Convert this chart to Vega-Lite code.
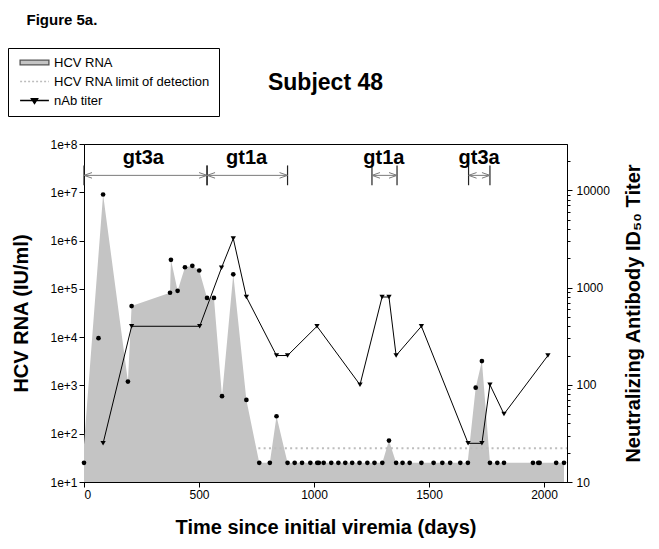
{
  "$schema": "https://vega.github.io/schema/vega-lite/v6.json",
  "background": "white",
  "padding": {"left": 7, "top": 12, "right": 5, "bottom": 5},
  "config": {
    "font": "Liberation Sans",
    "view": {"stroke": "black", "strokeWidth": 1},
    "axis": {
      "labelFont": "Liberation Sans", "labelFontSize": 12, "labelColor": "black",
      "titleFont": "Liberation Sans", "titleFontSize": 20, "titleFontWeight": "bold", "titleColor": "black",
      "domainColor": "black", "tickColor": "black", "grid": false, "tickSize": 5, "labelPadding": 2
    }
  },
  "title": {"text": "Figure 5a.", "anchor": "start", "frame": "bounds", "fontSize": 15, "fontWeight": "bold", "font": "Liberation Sans", "color": "black", "dx": 19, "offset": 20},
  "datasets": {
    "rnaArea": [
      {"day": 0, "rna": 60}, {"day": 83, "rna": 9000000}, {"day": 191, "rna": 1200}, {"day": 207, "rna": 44000},
      {"day": 374, "rna": 83000}, {"day": 378, "rna": 400000}, {"day": 407, "rna": 91000}, {"day": 439, "rna": 280000},
      {"day": 471, "rna": 300000}, {"day": 501, "rna": 240000}, {"day": 535, "rna": 65000}, {"day": 565, "rna": 65000},
      {"day": 600, "rna": 600}, {"day": 649, "rna": 200000}, {"day": 706, "rna": 500}, {"day": 762, "rna": 25},
      {"day": 808, "rna": 25}, {"day": 837, "rna": 230}, {"day": 885, "rna": 25}, {"day": 1297, "rna": 25},
      {"day": 1326, "rna": 72}, {"day": 1357, "rna": 25}, {"day": 1668, "rna": 25}, {"day": 1703, "rna": 900},
      {"day": 1730, "rna": 3200}, {"day": 1765, "rna": 25}, {"day": 2087, "rna": 25}
    ],
    "rnaDots": [
      {"day": 0, "rna": 25}, {"day": 63, "rna": 9500}, {"day": 83, "rna": 9000000}, {"day": 191, "rna": 1200},
      {"day": 207, "rna": 44000}, {"day": 374, "rna": 83000}, {"day": 378, "rna": 400000}, {"day": 407, "rna": 91000},
      {"day": 439, "rna": 280000}, {"day": 471, "rna": 300000}, {"day": 501, "rna": 240000}, {"day": 535, "rna": 65000},
      {"day": 565, "rna": 65000}, {"day": 600, "rna": 600}, {"day": 649, "rna": 200000}, {"day": 706, "rna": 500},
      {"day": 762, "rna": 25}, {"day": 808, "rna": 25}, {"day": 837, "rna": 230}, {"day": 885, "rna": 25},
      {"day": 916, "rna": 25}, {"day": 948, "rna": 25}, {"day": 984, "rna": 25}, {"day": 1014, "rna": 25},
      {"day": 1021, "rna": 25}, {"day": 1042, "rna": 25}, {"day": 1075, "rna": 25}, {"day": 1106, "rna": 25},
      {"day": 1136, "rna": 25}, {"day": 1166, "rna": 25}, {"day": 1198, "rna": 25}, {"day": 1232, "rna": 25},
      {"day": 1263, "rna": 25}, {"day": 1297, "rna": 25}, {"day": 1326, "rna": 72}, {"day": 1357, "rna": 25},
      {"day": 1385, "rna": 25}, {"day": 1416, "rna": 25}, {"day": 1467, "rna": 25}, {"day": 1520, "rna": 25},
      {"day": 1558, "rna": 25}, {"day": 1592, "rna": 25}, {"day": 1636, "rna": 25}, {"day": 1669, "rna": 25},
      {"day": 1703, "rna": 900}, {"day": 1730, "rna": 3200}, {"day": 1765, "rna": 25}, {"day": 1797, "rna": 25},
      {"day": 1826, "rna": 25}, {"day": 1952, "rna": 25}, {"day": 1975, "rna": 25}, {"day": 1981, "rna": 25},
      {"day": 2053, "rna": 25}, {"day": 2087, "rna": 25}
    ],
    "titer": [
      {"day": 83, "titer": 25}, {"day": 207, "titer": 400}, {"day": 503, "titer": 400}, {"day": 598, "titer": 1600},
      {"day": 649, "titer": 3200}, {"day": 706, "titer": 800}, {"day": 837, "titer": 200}, {"day": 885, "titer": 200},
      {"day": 1013, "titer": 400}, {"day": 1200, "titer": 100}, {"day": 1296, "titer": 800}, {"day": 1326, "titer": 800},
      {"day": 1357, "titer": 200}, {"day": 1467, "titer": 400}, {"day": 1670, "titer": 25}, {"day": 1730, "titer": 25},
      {"day": 1765, "titer": 100}, {"day": 1826, "titer": 50}, {"day": 2017, "titer": 200}
    ],
    "lod": [{"start": 758, "end": 2100, "rna": 50}],
    "geno": [
      {"label": "gt3a", "start": 0, "end": 535, "mid": 258},
      {"label": "gt1a", "start": 535, "end": 885, "mid": 707},
      {"label": "gt1a", "start": 1252, "end": 1361, "mid": 1304},
      {"label": "gt3a", "start": 1672, "end": 1765, "mid": 1718}
    ],
    "legendItems": [
      {"series": "HCV RNA"}, {"series": "HCV RNA limit of detection"}, {"series": "nAb titer"}
    ]
  },
  "vconcat": [
    {
      "width": 483,
      "height": 338,
      "title": {"text": "Subject 48", "fontSize": 23, "fontWeight": "bold", "font": "Liberation Sans", "color": "black", "anchor": "middle", "offset": 43},
      "resolve": {"scale": {"y": "independent"}},
      "layer": [
        {
          "layer": [
            {
              "data": {"name": "rnaArea"},
              "mark": {"type": "area", "color": "#c4c4c4", "opacity": 1},
              "encoding": {
                "x": {"field": "day", "type": "quantitative",
                  "scale": {"domain": [0, 2100], "nice": false, "zero": false},
                  "axis": {"values": [0, 500, 1000, 1500, 2000], "format": "d", "title": "Time since initial viremia (days)", "titlePadding": 17}},
                "y": {"field": "rna", "type": "quantitative",
                  "scale": {"type": "log", "domain": [10, 100000000], "nice": false},
                  "axis": {"orient": "left", "values": [10, 100, 1000, 10000, 100000, 1000000, 10000000, 100000000],
                    "labelExpr": "format(datum.value, '.0e')", "title": "HCV RNA (IU/ml)", "titlePadding": 18}},
                "y2": {"datum": 10}
              }
            },
            {
              "data": {"name": "lod"},
              "mark": {"type": "rule", "color": "#bdbdbd", "strokeWidth": 2, "strokeDash": [2, 3.3]},
              "encoding": {
                "x": {"field": "start", "type": "quantitative"},
                "x2": {"field": "end"},
                "y": {"field": "rna", "type": "quantitative"}
              }
            },
            {
              "data": {"name": "rnaDots"},
              "mark": {"type": "point", "filled": true, "color": "black", "size": 22, "opacity": 1, "shape": "circle"},
              "encoding": {
                "x": {"field": "day", "type": "quantitative"},
                "y": {"field": "rna", "type": "quantitative"}
              }
            },
            {
              "data": {"name": "geno"},
              "mark": {"type": "rule", "color": "#7a7a7a", "strokeWidth": 1},
              "encoding": {
                "x": {"field": "start", "type": "quantitative"},
                "x2": {"field": "end"},
                "y": {"datum": 22400000}
              }
            },
            {
              "data": {"name": "geno"},
              "mark": {"type": "rule", "color": "#222222", "strokeWidth": 1.2},
              "encoding": {
                "x": {"field": "start", "type": "quantitative"},
                "y": {"datum": 14000000},
                "y2": {"datum": 36000000}
              }
            },
            {
              "data": {"name": "geno"},
              "mark": {"type": "rule", "color": "#222222", "strokeWidth": 1.2},
              "encoding": {
                "x": {"field": "end", "type": "quantitative"},
                "y": {"datum": 14000000},
                "y2": {"datum": 36000000}
              }
            },
            {
              "data": {"name": "geno"},
              "mark": {"type": "point", "shape": "M4,-1.4 L0,0 L4,1.4", "size": 16, "filled": false, "color": "#7a7a7a", "strokeWidth": 1, "opacity": 1},
              "encoding": {
                "x": {"field": "start", "type": "quantitative"},
                "y": {"datum": 22400000}
              }
            },
            {
              "data": {"name": "geno"},
              "mark": {"type": "point", "shape": "M-4,-1.4 L0,0 L-4,1.4", "size": 16, "filled": false, "color": "#7a7a7a", "strokeWidth": 1, "opacity": 1},
              "encoding": {
                "x": {"field": "end", "type": "quantitative"},
                "y": {"datum": 22400000}
              }
            },
            {
              "data": {"name": "geno"},
              "mark": {"type": "text", "fontSize": 20, "fontWeight": "bold", "font": "Liberation Sans", "color": "black", "align": "center", "baseline": "alphabetic"},
              "encoding": {
                "x": {"field": "mid", "type": "quantitative"},
                "y": {"datum": 38000000},
                "text": {"field": "label"}
              }
            },
            {
              "data": {"name": "legendItems"},
              "mark": {"type": "point", "clip": true, "opacity": 1, "filled": true, "strokeWidth": 1},
              "encoding": {
                "x": {"datum": 1000},
                "y": {"datum": 1},
                "shape": {"field": "series", "type": "nominal",
                  "scale": {"domain": ["HCV RNA", "HCV RNA limit of detection", "nAb titer"],
                    "range": ["M-3.6,-0.6H3.6V0.6H-3.6Z", "M-3.6,0H3.6", "M-3.6,0H3.6M-0.8,-0.45H0.8L0,0.75Z"]},
                  "legend": {"orient": "none", "legendX": -76, "legendY": -96, "title": null,
                    "strokeColor": "black", "fillColor": "white", "padding": 8,
                    "symbolSize": 64, "symbolStrokeWidth": 1.3, "symbolOffset": 12, "labelOffset": 13,
                    "labelFontSize": 13, "labelFont": "Liberation Sans", "labelColor": "black", "rowPadding": 5}},
                "fill": {"field": "series", "type": "nominal",
                  "scale": {"domain": ["HCV RNA", "HCV RNA limit of detection", "nAb titer"], "range": ["#c4c4c4", "transparent", "black"]}},
                "stroke": {"field": "series", "type": "nominal",
                  "scale": {"domain": ["HCV RNA", "HCV RNA limit of detection", "nAb titer"], "range": ["#555555", "#bdbdbd", "black"]}},
                "strokeDash": {"field": "series", "type": "nominal",
                  "scale": {"domain": ["HCV RNA", "HCV RNA limit of detection", "nAb titer"], "range": [[1, 0], [2, 2], [1, 0]]}}
              }
            }
          ]
        },
        {
          "data": {"name": "titer"},
          "mark": {"type": "line", "color": "black", "strokeWidth": 1,
            "point": {"shape": "triangle-down", "filled": true, "size": 28, "color": "black", "opacity": 1}},
          "encoding": {
            "x": {"field": "day", "type": "quantitative"},
            "y": {"field": "titer", "type": "quantitative",
              "scale": {"type": "log", "domain": [10, 30000], "nice": false},
              "axis": {"orient": "right",
                "values": [10, 20, 30, 40, 50, 60, 70, 80, 90, 100, 200, 300, 400, 500, 600, 700, 800, 900, 1000, 2000, 3000, 4000, 5000, 6000, 7000, 8000, 9000, 10000, 20000],
                "format": "d",
                "labelExpr": "abs(log(datum.value)/LN10 - round(log(datum.value)/LN10)) < 0.000001 ? datum.label : ''",
                "tickSize": {"condition": {"test": "abs(log(datum.value)/LN10 - round(log(datum.value)/LN10)) < 0.000001", "value": 5}, "value": 3},
                "labelPadding": 4,
                "title": "Neutralizing Antibody ID₅₀ Titer", "titleAngle": 270, "titlePadding": 34}}
          }
        }
      ]
    }
  ]
}
